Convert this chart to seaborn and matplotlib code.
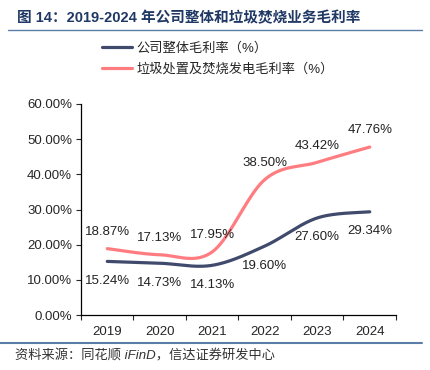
import numpy as np
import pandas as pd
import matplotlib
matplotlib.use("Agg")
import matplotlib.pyplot as plt
import seaborn as sns
from matplotlib.ticker import FuncFormatter, FixedLocator

# data
years = ["2019", "2020", "2021", "2022", "2023", "2024"]
total_margin = [15.24, 14.73, 14.13, 19.60, 27.60, 29.34]
waste_margin = [18.87, 17.13, 17.95, 38.50, 43.42, 47.76]
series_names = ["公司整体毛利率（%）", "垃圾处置及焚烧发电毛利率（%）"]
series_colors = ["#404a6c", "#ff7c80"]

title = "图 14：2019-2024 年公司整体和垃圾焚烧业务毛利率"
source = "资料来源：同花顺 iFinD，信达证券研发中心"

sns.set_style("ticks")
plt.rcParams["font.family"] = ["Liberation Sans", "Noto Sans CJK SC", "DejaVu Sans"]


def smooth(vals, n=40):
    # excel-like smoothed line (catmull-rom as bezier)
    x = np.arange(len(vals), dtype=float)
    y = np.asarray(vals, dtype=float)
    px = np.concatenate([[x[0]], x, [x[-1]]])
    py = np.concatenate([[y[0]], y, [y[-1]]])
    xs, ys = [], []
    t = np.linspace(0, 1, n)
    for i in range(len(vals) - 1):
        p0 = np.array([px[i], py[i]])
        p1 = np.array([px[i + 1], py[i + 1]])
        p2 = np.array([px[i + 2], py[i + 2]])
        p3 = np.array([px[i + 3], py[i + 3]])
        c1 = p1 + (p2 - p0) / 6
        c2 = p2 - (p3 - p1) / 6
        pts = ((1 - t) ** 3)[:, None] * p1 + (3 * (1 - t) ** 2 * t)[:, None] * c1 \
            + (3 * (1 - t) * t ** 2)[:, None] * c2 + (t ** 3)[:, None] * p2
        if i > 0:
            pts = pts[1:]
        xs.extend(pts[:, 0])
        ys.extend(pts[:, 1])
    return np.array(xs), np.array(ys)


fig = plt.figure(figsize=(4.31, 3.70), dpi=100)
ax = fig.add_axes([81 / 431, 1 - 315 / 370, (396 - 81) / 431, (315 - 104) / 370])

for vals, name, col in zip([total_margin, waste_margin], series_names, series_colors):
    sx, sy = smooth(vals)
    sns.lineplot(x=sx, y=sy, ax=ax, color=col, lw=2.3, label=name, sort=False,
                 estimator=None)

# data labels
for i, v in enumerate(total_margin):
    ax.annotate(f"{v:.2f}%", (i, v), xytext=(0, -14), textcoords="offset points",
                ha="center", va="center", fontsize=9.5, color="#222222")
for i, v in enumerate(waste_margin):
    ax.annotate(f"{v:.2f}%", (i, v), xytext=(0, 12), textcoords="offset points",
                ha="center", va="center", fontsize=9.5, color="#222222")

ax.set_xlim(-0.5, len(years) - 0.5)
ax.set_ylim(0, 60)
ax.set_yticks(np.arange(0, 61, 10))
ax.yaxis.set_major_formatter(FuncFormatter(lambda v, p: f"{v:.2f}%"))
ax.tick_params(axis="y", length=3.5, width=0.8, labelsize=9.5, pad=3)

# ticks between categories, labels at centres
ax.xaxis.set_major_locator(FixedLocator(np.arange(-0.5, len(years), 1.0)))
ax.xaxis.set_minor_locator(FixedLocator(np.arange(len(years))))
ax.set_xticklabels([])
ax.set_xticklabels(years, minor=True)
ax.tick_params(axis="x", which="major", length=3.5, width=0.8)
ax.tick_params(axis="x", which="minor", length=0, labelsize=9.5, pad=8)

for s in ["top", "right"]:
    ax.spines[s].set_visible(False)
for s in ["left", "bottom"]:
    ax.spines[s].set_linewidth(0.9)
    ax.spines[s].set_color("black")
ax.set_xlabel("")
ax.set_ylabel("")

handles, labels = ax.get_legend_handles_labels()
ax.legend_.remove()
fig.legend(handles, labels, loc="upper left", bbox_to_anchor=(102 / 431, 1 - 42 / 370),
           frameon=False, fontsize=9.5, handlelength=2.3, handletextpad=0.3,
           labelspacing=0.65, borderpad=0, borderaxespad=0)

# title and footer
fig.text(17 / 431, 1 - 18 / 370, title, fontsize=10.5, fontweight="bold",
         color="#1f3864", va="center", ha="left")
fig.add_artist(plt.Line2D([8 / 431, 422 / 431], [1 - 29.5 / 370, 1 - 29.5 / 370],
                          color="#5b7ea8", lw=1.0))
fig.add_artist(plt.Line2D([0, 422 / 431], [1 - 343 / 370, 1 - 343 / 370],
                          color="#5b7ea8", lw=1.5))
fig.text(15 / 431, 1 - 356 / 370, source, fontsize=9.5, style="italic",
         color="#333333", va="center", ha="left")

fig.savefig("out.png", dpi=100)
